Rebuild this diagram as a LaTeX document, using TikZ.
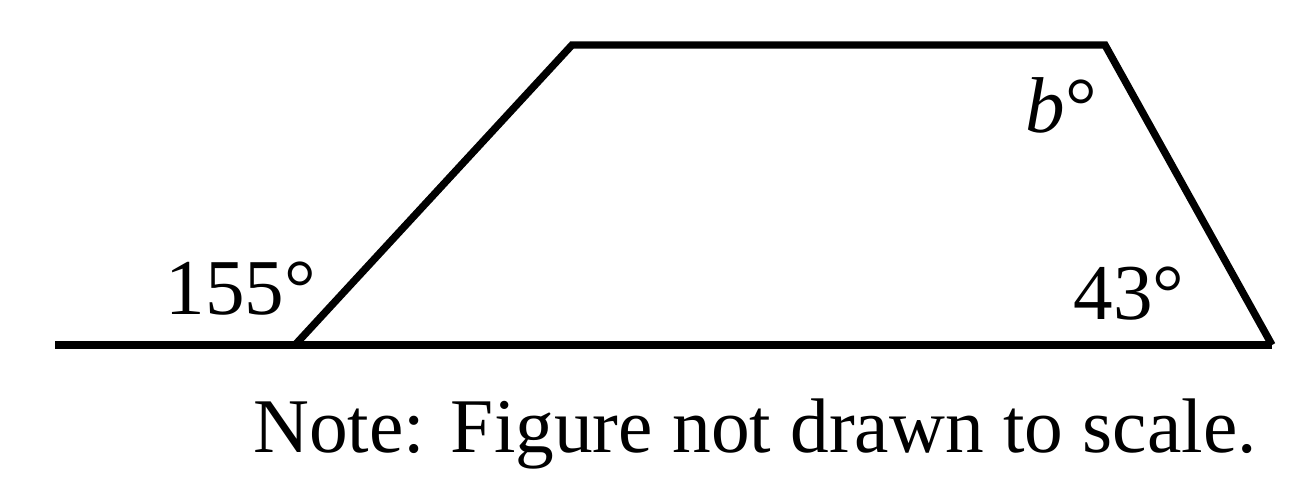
\documentclass[tikz,border=0pt]{standalone}
\usepackage{fontspec}
\setmainfont{Liberation Serif}
\begin{document}
\begin{tikzpicture}[x=0.01cm,y=-0.01cm,
  edge/.style={line width=2.1pt,line join=miter,black},
  lbl/.style={inner sep=0pt,anchor=base west,font=\fontsize{22.5}{24}\selectfont},
  note/.style={inner sep=0pt,anchor=base,font=\fontsize{22}{24}\selectfont}]
\useasboundingbox (0,0) rectangle (1312,492);
\coordinate (S) at (55,345);
\coordinate (A) at (295,345);
\coordinate (B) at (572,45);
\coordinate (C) at (1105,45);
\coordinate (D) at (1272,345);
\draw[edge] (S) -- (D);
\draw[edge] (A) -- (B) -- (C) -- (D);
\node[lbl] (l155) at (165,315) {155°};
\node[lbl] (l43) at (1073,320) {43°};
\node[lbl] (lb) at (1025,133) {\textit{b}°};
\node[note] (n) at (755,453) {Note: Figure not drawn to scale.};
\end{tikzpicture}
\end{document}
